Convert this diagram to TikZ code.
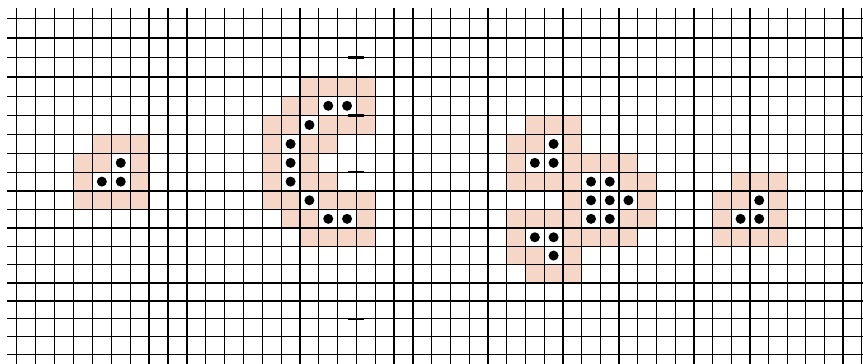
\documentclass[tikz,border=0pt]{standalone}
\usepackage{tikz}
\definecolor{nbshade}{RGB}{246,214,198}
\tikzset{
  gridline/.style={black,line width=0.65pt},
  tickline/.style={black,line width=1.2pt},
  nbcell/.style={fill=nbshade},
  livecell/.style={fill=white},
  livedot/.style={fill=black}
}
\begin{document}
\begin{tikzpicture}[x=0.5pt,y=-0.5pt,
  declare function={gx(\i)=16.7+18.942*\i-0.00364*\i*\i; gy(\j)=18.3+19.71*\j-0.058*\j*\j;}]
\useasboundingbox (0,0) rectangle (863,364);
\def\livecells{5/7,4/8,5/8,
  16/4,17/4,15/5,14/6,14/7,14/8,15/9,16/10,17/10,
  28/6,27/7,28/7,30/8,31/8,30/9,31/9,32/9,30/10,31/10,27/11,28/11,28/12,
  39/9,38/10,39/10}
% neighbourhood shading
\foreach \c/\r in \livecells {
  \fill[nbcell] ({gx(\c-1)},{gy(\r-1)}) rectangle ({gx(\c+2)},{gy(\r+2)});
}
% live cells white
\foreach \c/\r in \livecells {
  \fill[livecell] ({gx(\c)},{gy(\r)}) rectangle ({gx(\c+1)},{gy(\r+1)});
}
% grid
\foreach \i in {0,...,45} {
  \draw[gridline] ({gx(\i)},8) -- ({gx(\i)},364);
}
\foreach \j in {0,...,18} {
  \draw[gridline] (7,{gy(\j)}) -- (863,{gy(\j)});
}
% short dark ticks
\foreach \j in {2,5,8,9,14,15,16} {
  \draw[tickline] ({gx(18)-8},{gy(\j)}) -- ({gx(18)+8},{gy(\j)});
}
% dots
\foreach \c/\r in \livecells {
  \fill[livedot] ({(gx(\c)+gx(\c+1))/2},{(gy(\r)+gy(\r+1))/2}) circle[radius=2.5pt];
}
\end{tikzpicture}
\end{document}
